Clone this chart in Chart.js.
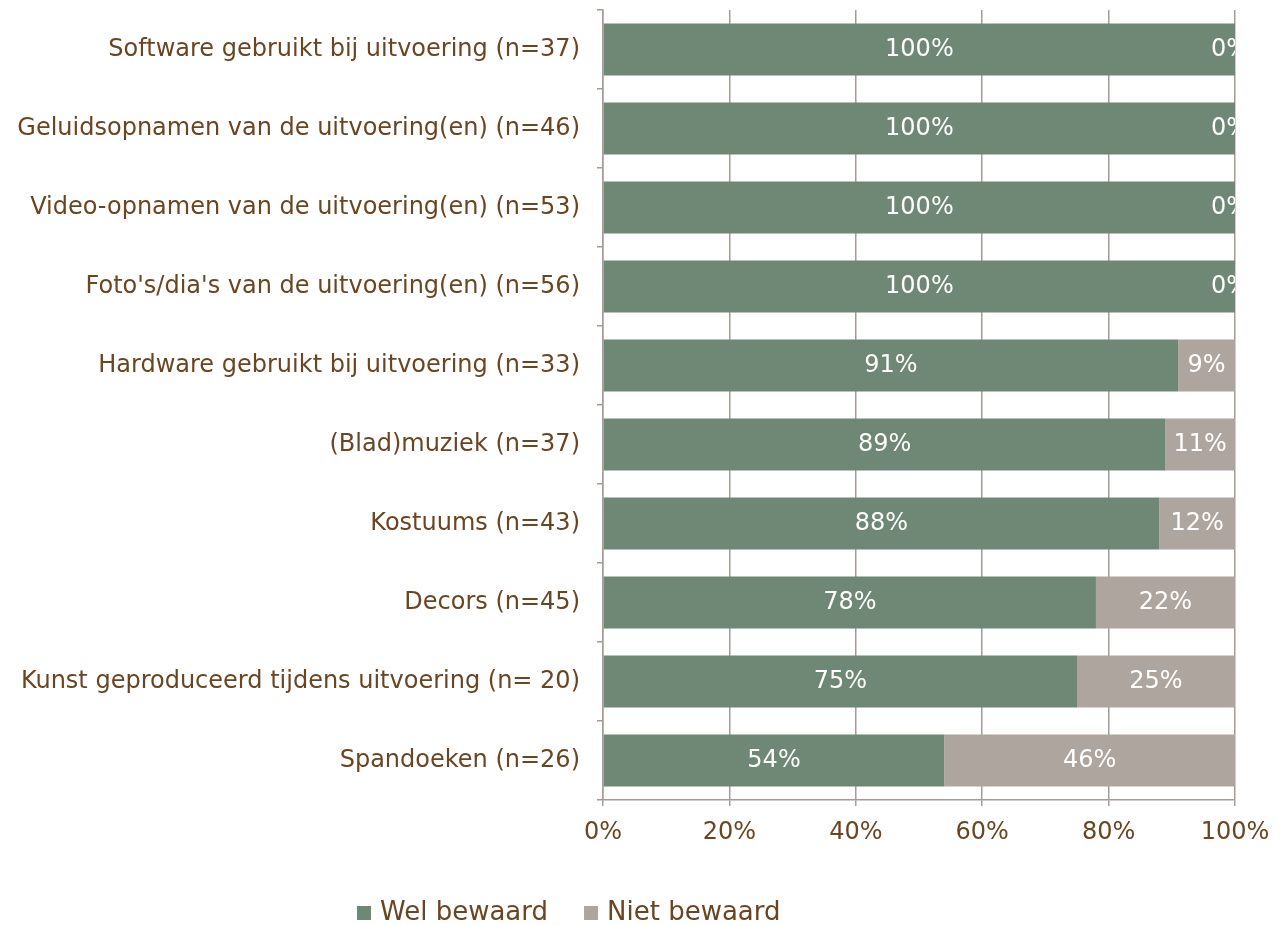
<!DOCTYPE html>
<html>
<head>
<meta charset="utf-8">
<script src="https://cdn.jsdelivr.net/npm/chart.js@4/dist/chart.umd.min.js"></script>
<style>
  html, body { margin: 0; padding: 0; background: #fff; }
  #wrap { width: 1287px; height: 926px; }
</style>
</head>
<body>
<div id="wrap"><canvas id="myChart" width="1287" height="926"></canvas></div>
<script>
const categories = [
  "Software gebruikt bij uitvoering (n=37)",
  "Geluidsopnamen van de uitvoering(en) (n=46)",
  "Video-opnamen van de uitvoering(en) (n=53)",
  "Foto's/dia's van de uitvoering(en) (n=56)",
  "Hardware gebruikt bij uitvoering (n=33)",
  "(Blad)muziek (n=37)",
  "Kostuums (n=43)",
  "Decors (n=45)",
  "Kunst geproduceerd tijdens uitvoering (n= 20)",
  "Spandoeken (n=26)"
];
const welBewaard  = [100, 100, 100, 100, 91, 89, 88, 78, 75, 54];
const nietBewaard = [0, 0, 0, 0, 9, 11, 12, 22, 25, 46];
const xTicks = [0, 20, 40, 60, 80, 100];

const FONT = "'DejaVu Sans', Verdana, sans-serif";
const TEXT = '#6a4522';
const GRID = '#a59c95';

// white percentage labels inside the bars
const barLabels = {
  id: 'barLabels',
  afterDatasetsDraw(chart) {
    const ctx = chart.ctx;
    const area = chart.chartArea;
    ctx.save();
    ctx.beginPath();
    ctx.rect(area.left, area.top, area.right - area.left, area.bottom - area.top);
    ctx.clip();
    ctx.fillStyle = '#ffffff';
    ctx.font = '24px ' + FONT;
    ctx.textAlign = 'center';
    ctx.textBaseline = 'middle';
    chart.data.datasets.forEach((ds, i) => {
      chart.getDatasetMeta(i).data.forEach((bar, j) => {
        let x = (bar.x + bar.base) / 2;
        if (x > area.right - 5) x = area.right - 5;
        ctx.fillText(ds.data[j] + '%', x, bar.y);
      });
    });
    ctx.restore();
  }
};

// legend drawn by hand so it can sit left of centre like the original
const customLegend = {
  id: 'customLegend',
  afterDraw(chart) {
    const ctx = chart.ctx;
    ctx.save();
    ctx.font = '26px ' + FONT;
    ctx.textBaseline = 'middle';
    ctx.textAlign = 'left';
    let x = 357;
    const y = 913;
    chart.data.datasets.forEach(ds => {
      ctx.fillStyle = ds.backgroundColor;
      ctx.fillRect(x, y - 7, 14, 14);
      ctx.fillStyle = TEXT;
      ctx.fillText(ds.label, x + 23, y);
      x += 23 + ctx.measureText(ds.label).width + 36;
    });
    ctx.restore();
  }
};

new Chart(document.getElementById('myChart').getContext('2d'), {
  type: 'bar',
  data: {
    labels: categories,
    datasets: [{
      label: 'Wel bewaard',
      data: welBewaard,
      backgroundColor: '#6f8775',
      categoryPercentage: 1,
      barPercentage: 0.66
    }, {
      label: 'Niet bewaard',
      data: nietBewaard,
      backgroundColor: '#aea59e',
      categoryPercentage: 1,
      barPercentage: 0.66
    }]
  },
  options: {
    indexAxis: 'y',
    responsive: false,
    animation: false,
    layout: { padding: { top: 10, right: 52, left: 0, bottom: 0 } },
    plugins: {
      legend: { display: false },
      tooltip: { enabled: false }
    },
    scales: {
      x: {
        stacked: true,
        min: 0,
        max: 100,
        afterBuildTicks(scale) {
          scale.ticks = xTicks.map(v => ({ value: v }));
        },
        afterFit(scale) { scale.height = 126; },
        grid: { color: GRID, lineWidth: 1.5, tickLength: 6 },
        border: { color: GRID, width: 1.5 },
        ticks: {
          color: TEXT,
          font: { family: FONT, size: 24 },
          padding: 12,
          callback: v => v + '%'
        }
      },
      y: {
        stacked: true,
        afterFit(scale) {
          scale.width = 603;
          scale.paddingTop = 0;
          scale.paddingBottom = 0;
        },
        grid: { drawOnChartArea: false, offset: true, color: GRID, lineWidth: 1.5, tickLength: 6 },
        border: { color: GRID, width: 1.5 },
        ticks: {
          color: TEXT,
          font: { family: FONT, size: 24 },
          padding: 17,
          autoSkip: false
        }
      }
    }
  },
  plugins: [barLabels, customLegend]
});
</script>
</body>
</html>
